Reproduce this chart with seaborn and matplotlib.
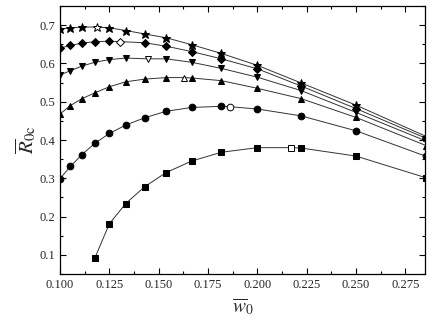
import numpy as np
import pandas as pd
import matplotlib
matplotlib.use("Agg")
import matplotlib.pyplot as plt
import seaborn as sns
from matplotlib.ticker import MultipleLocator

# x positions shared by all curves
w0 = [0.1000, 0.1053, 0.1111, 0.1176, 0.1250, 0.1333, 0.1429,
      0.1538, 0.1667, 0.1818, 0.2000, 0.2222, 0.2500, 0.2857]

nan = np.nan
# filled markers, one list per curve (nan = no filled point there)
r_square = [nan, nan, nan, 0.091, 0.181, 0.234, 0.278, 0.315, 0.345, 0.368, 0.380, 0.379, 0.358, 0.301]
r_circle = [0.299, 0.331, 0.362, 0.391, 0.417, 0.439, 0.458, 0.475, 0.485, 0.488, 0.481, 0.463, 0.424, 0.357]
r_tri_up = [0.468, 0.490, 0.508, 0.523, 0.539, 0.552, 0.559, 0.563, 0.562, 0.555, 0.535, 0.508, 0.459, 0.385]
r_tri_dn = [0.570, 0.581, 0.593, 0.603, 0.610, 0.614, nan, 0.612, 0.603, 0.587, 0.564, 0.529, 0.472, 0.397]
r_diamond = [0.640, 0.647, 0.653, 0.657, 0.658, nan, 0.654, 0.645, 0.631, 0.612, 0.586, 0.541, 0.482, 0.404]
r_star = [0.690, 0.693, 0.695, nan, 0.693, 0.686, 0.677, 0.667, 0.649, 0.626, 0.595, 0.549, 0.491, 0.409]

# open markers (maximum of each curve)
peak_x = [0.2168, 0.1860, 0.1627, 0.1445, 0.1304, 0.1185]
peak_y = [0.380, 0.487, 0.563, 0.612, 0.657, 0.695]

curves = [r_square, r_circle, r_tri_up, r_tri_dn, r_diamond, r_star]
markers = ['s', 'o', '^', 'v', 'D', '*']
msizes = [4.3, 4.8, 5.0, 5.0, 4.0, 6.3]

sns.set_style("ticks")
plt.rcParams['font.family'] = ['Liberation Serif', 'DejaVu Serif']
plt.rcParams['mathtext.fontset'] = 'stix'

fig = plt.figure(figsize=(4.36, 3.26), dpi=100)
ax = fig.add_axes([0.1376, 0.1595, 0.8374, 0.8221])

for i, ys in enumerate(curves):
    df = pd.DataFrame({'w': w0, 'r': ys}).dropna()
    line = pd.concat([df, pd.DataFrame({'w': [peak_x[i]], 'r': [peak_y[i]]})]).sort_values('w')
    ax.plot(line['w'], line['r'], color='#333333', lw=0.7, zorder=2)
    sns.lineplot(data=df, x='w', y='r', ax=ax, linestyle='none', marker=markers[i],
                 markersize=msizes[i], color='black', markeredgecolor='black', zorder=3)
    ax.plot([peak_x[i]], [peak_y[i]], linestyle='none', marker=markers[i], markersize=msizes[i],
            markerfacecolor='white', markeredgecolor='black', markeredgewidth=0.7, zorder=4)

ax.set_xlim(0.100, 0.285)
ax.set_ylim(0.05, 0.75)
ax.xaxis.set_major_locator(MultipleLocator(0.025))
ax.xaxis.set_minor_locator(MultipleLocator(0.0125))
ax.yaxis.set_major_locator(MultipleLocator(0.1))
ax.yaxis.set_minor_locator(MultipleLocator(0.05))
ax.xaxis.set_major_formatter(matplotlib.ticker.FormatStrFormatter('%.3f'))
ax.yaxis.set_major_formatter(matplotlib.ticker.FormatStrFormatter('%.1f'))
ax.tick_params(which='both', direction='in', top=True, right=True, labelsize=9, width=0.8, color='black')
ax.tick_params(which='major', length=4)
ax.tick_params(which='minor', length=2.3)
for s in ax.spines.values():
    s.set_linewidth(0.9)
    s.set_color('black')

ax.set_xlabel(r'$\overline{w}_{0}$', fontsize=14, labelpad=4)
ax.set_ylabel(r'$\overline{R}_{\mathrm{0c}}$', fontsize=15, labelpad=1)

fig.savefig('out.png', dpi=100)
